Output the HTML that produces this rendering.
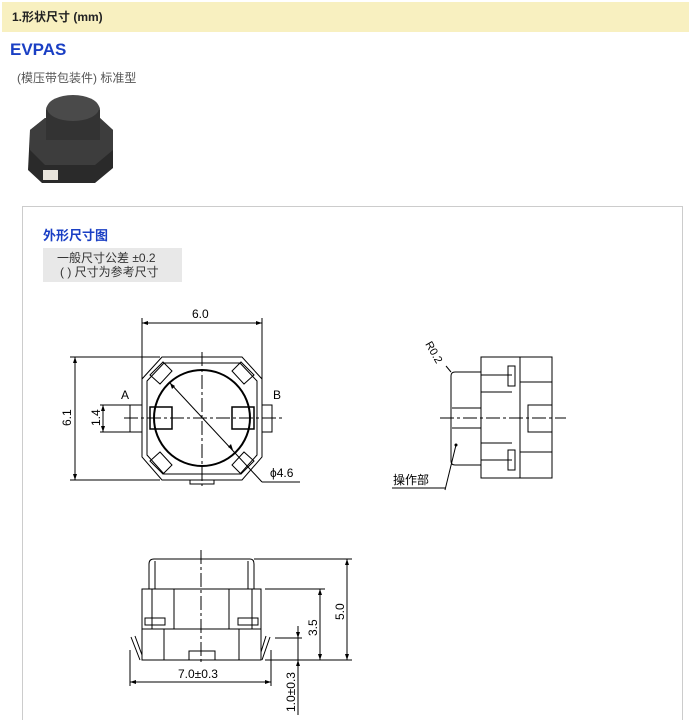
<!DOCTYPE html>
<html><head><meta charset="utf-8"><style>
body{margin:0;width:689px;height:720px;background:#fff;overflow:hidden;font-family:"Liberation Sans","Noto Sans CJK SC",sans-serif;position:relative}
.hd{position:absolute;left:2px;top:2px;width:687px;height:30px;background:#f8f0c0;font-size:12px;font-weight:bold;color:#222;line-height:30px;text-indent:10px}
.t{position:absolute;white-space:nowrap}
</style></head><body>
<div class="hd">1.形状尺寸 (mm)</div>
<div class="t" style="left:10px;top:40px;font-size:17px;font-weight:bold;color:#1a3fc4">EVPAS</div>
<div class="t" style="left:17px;top:69px;font-size:12px;color:#555">(模压带包装件) 标准型</div>
<svg style="position:absolute;left:0;top:0" width="689" height="720">
<!-- photo -->
<polygon points="30,130 45,118 100,118 113,130 113,168 95,183 42,183 28,170" fill="#2a2a2a"/>
<polygon points="45,118 100,118 113,130 113,150 95,165 45,165 30,150 30,130" fill="#3d3d3d"/>
<ellipse cx="73" cy="110" rx="27" ry="14" fill="#444"/>
<rect x="46" y="110" width="54" height="30" fill="#333"/>
<ellipse cx="73" cy="108" rx="26" ry="13" fill="#4a4a4a"/>
<rect x="43" y="170" width="15" height="10" fill="#e8e4dc"/>
<!-- dotted box -->
<rect x="22.5" y="206.5" width="660" height="520" fill="none" stroke="#999" stroke-dasharray="1,1"/>
<rect x="43" y="248" width="139" height="34" fill="#e8e8e8"/>
<g fill="none" stroke="#000" stroke-width="1">
<!-- top view -->
<line x1="142" y1="323" x2="262" y2="323"/><line x1="142" y1="318" x2="142" y2="385"/><line x1="262" y1="318" x2="262" y2="385"/>
<polygon points="162,357 242,357 262,379 262,457 242,480 162,480 142,457 142,379"/>
<polygon points="147,381 164,363 240,363 257,381 257,455 240,474 164,474 147,455"/>
<circle cx="202" cy="418" r="48" stroke-width="2"/>
<rect x="150" y="407" width="22" height="22" stroke-width="1.5"/>
<rect x="232" y="407" width="22" height="22" stroke-width="1.5"/>
<rect x="130" y="405" width="12" height="27"/><rect x="262" y="405" width="10" height="27"/>
<rect x="190" y="480" width="24" height="4"/>
<polygon points="150,375 163,362 172,371 160,384"/><polygon points="254,375 241,362 232,371 244,384"/>
<polygon points="150,461 163,474 172,465 160,452"/><polygon points="254,461 241,474 232,465 244,452"/>
<line x1="124" y1="418" x2="282" y2="418" stroke-dasharray="14,3,3,3"/>
<line x1="202" y1="352" x2="202" y2="486" stroke-dasharray="14,3,3,3"/>
<line x1="170" y1="383" x2="262" y2="482"/><line x1="262" y1="482" x2="300" y2="482"/>
<line x1="75" y1="357" x2="75" y2="480"/><line x1="70" y1="357" x2="160" y2="357"/><line x1="70" y1="480" x2="160" y2="480"/>
<line x1="103" y1="405" x2="103" y2="432"/><line x1="100" y1="405" x2="135" y2="405"/><line x1="100" y1="432" x2="135" y2="432"/>
<!-- side view -->
<rect x="481" y="357" width="71" height="121"/>
<path d="M481,372 H455 Q451,372 451,376 V461 Q451,465 455,465 H481"/>
<line x1="481" y1="375" x2="512" y2="375"/><line x1="481" y1="392" x2="512" y2="392"/>
<line x1="481" y1="443" x2="512" y2="443"/><line x1="481" y1="460" x2="512" y2="460"/>
<line x1="452" y1="408" x2="481" y2="408"/><line x1="452" y1="428" x2="481" y2="428"/>
<line x1="520" y1="357" x2="520" y2="478"/><line x1="520" y1="382" x2="552" y2="382"/><line x1="520" y1="452" x2="552" y2="452"/>
<rect x="508" y="366" width="7" height="20"/><rect x="508" y="450" width="7" height="20"/>
<rect x="528" y="405" width="24" height="27"/>
<line x1="440" y1="418" x2="566" y2="418" stroke-dasharray="14,3,3,3"/>
<line x1="451" y1="372" x2="446" y2="366"/>
<line x1="456" y1="445" x2="445" y2="490"/><line x1="392" y1="488" x2="445" y2="488"/>
<!-- front view -->
<path d="M149,589 V564 Q149,559 154,559 H250 Q254,559 254,564 V589"/>
<line x1="155" y1="561" x2="155" y2="589"/><line x1="248" y1="561" x2="248" y2="589"/>
<rect x="142" y="589" width="119" height="71"/>
<line x1="142" y1="629" x2="261" y2="629"/>
<line x1="152" y1="589" x2="152" y2="629"/><line x1="252" y1="589" x2="252" y2="629"/>
<line x1="174" y1="589" x2="174" y2="629"/><line x1="229" y1="589" x2="229" y2="629"/>
<line x1="164" y1="629" x2="164" y2="660"/><line x1="239" y1="629" x2="239" y2="660"/>
<rect x="145" y="618" width="20" height="7"/><rect x="238" y="618" width="20" height="7"/>
<rect x="189" y="651" width="26" height="9"/>
<path d="M131,637 L140,660 M135,636 L142,655"/><path d="M270,637 L262,660 M266,636 L261,652"/>
<line x1="201" y1="550" x2="201" y2="662" stroke-dasharray="14,3,3,3"/>
<line x1="347" y1="559" x2="347" y2="660"/><line x1="254" y1="559" x2="352" y2="559"/><line x1="265" y1="660" x2="352" y2="660"/>
<line x1="320" y1="589" x2="320" y2="660"/><line x1="265" y1="589" x2="325" y2="589"/>
<line x1="298" y1="626" x2="298" y2="715"/><line x1="275" y1="638" x2="302" y2="638"/>
<line x1="130" y1="682" x2="271" y2="682"/><line x1="130" y1="650" x2="130" y2="686"/><line x1="271" y1="650" x2="271" y2="686"/>
</g>
<g fill="#000">
<path d="M142,323 l6,-2 v4z M262,323 l-6,-2 v4z"/>
<path d="M75,357 l-2,6 h4z M75,480 l-2,-6 h4z"/>
<path d="M103,405 l-2,6 h4z M103,432 l-2,-6 h4z"/>
<path d="M170,383 l2,6 l3,-3z M233,450 l-2,-6 l-3,3z"/>
<path d="M347,559 l-2,6 h4z M347,660 l-2,-6 h4z M320,589 l-2,6 h4z M320,660 l-2,-6 h4z"/>
<path d="M298,638 l-2,-6 h4z M298,660 l-2,6 h4z"/>
<path d="M130,682 l6,-2 v4z M271,682 l-6,-2 v4z"/>
<circle cx="456" cy="445" r="1.5"/>
</g>
<g font-family="Liberation Sans, Noto Sans CJK SC, sans-serif" font-size="12" fill="#000">
<text x="43" y="240" font-size="13" font-weight="bold" fill="#1a3fc4" font-family="Noto Sans CJK SC, sans-serif">外形尺寸图</text>
<text x="57" y="262" fill="#333">一般尺寸公差 ±0.2</text>
<text x="60" y="276" fill="#333">(  ) 尺寸为参考尺寸</text>
<text x="192" y="318">6.0</text>
<text x="121" y="399">A</text><text x="273" y="399">B</text>
<text x="270" y="477">ϕ4.6</text>
<text transform="translate(71,426) rotate(-90)">6.1</text>
<text transform="translate(100,426) rotate(-90)">1.4</text>
<text transform="translate(425,344) rotate(60)" font-size="11">R0.2</text>
<text x="393" y="484" font-family="Noto Sans CJK SC, sans-serif">操作部</text>
<text x="178" y="678">7.0±0.3</text>
<text transform="translate(344,620) rotate(-90)">5.0</text>
<text transform="translate(317,636) rotate(-90)">3.5</text>
<text transform="translate(295,712) rotate(-90)">1.0±0.3</text>
</g>
</svg>
</body></html>
